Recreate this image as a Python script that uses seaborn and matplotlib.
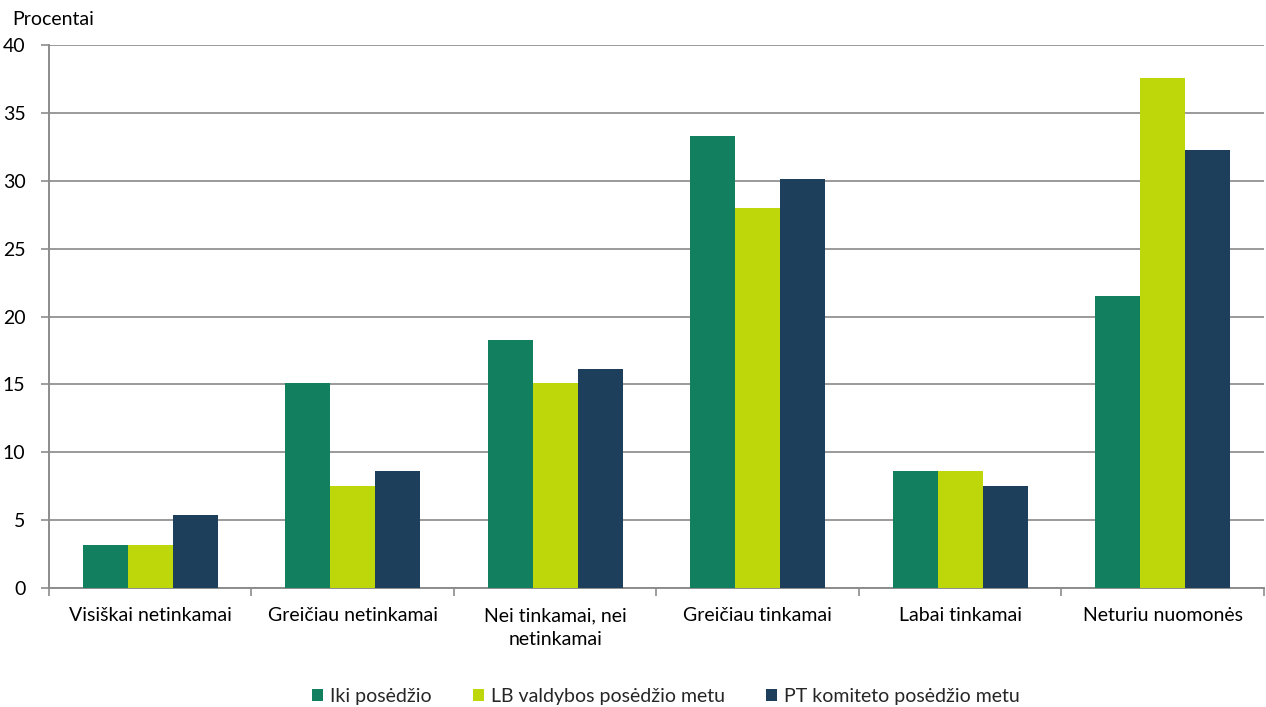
import matplotlib
matplotlib.use("Agg")
import matplotlib.pyplot as plt
import seaborn as sns
import pandas as pd
import numpy as np

# Survey answers, percent of respondents
categories = ["Visiškai netinkamai", "Greičiau netinkamai", "Nei tinkamai, nei\nnetinkamai",
              "Greičiau tinkamai", "Labai tinkamai", "Neturiu nuomonės"]
series_names = ["Iki posėdžio", "LB valdybos posėdžio metu", "PT komiteto posėdžio metu"]
iki_posedzio = [3.2, 15.1, 18.3, 33.3, 8.6, 21.5]
lb_valdybos = [3.2, 7.5, 15.1, 28.0, 8.6, 37.6]
pt_komiteto = [5.4, 8.6, 16.1, 30.1, 7.5, 32.3]
colors = ["#12805F", "#BDD70A", "#1D3F5C"]

sns.set_theme(style="white")
plt.rcParams["font.family"] = ["Lato", "DejaVu Sans"]

df = pd.DataFrame({
    "kategorija": categories * 3,
    "serija": np.repeat(series_names, len(categories)),
    "reiksme": iki_posedzio + lb_valdybos + pt_komiteto,
})

fig = plt.figure(figsize=(12.66, 7.07), dpi=100)
ax = fig.add_axes([0.0387, 0.1683, 0.9597, 0.768])

sns.barplot(data=df, x="kategorija", y="reiksme", hue="serija", order=categories,
            hue_order=series_names, palette=colors, width=0.667, saturation=1,
            errorbar=None, linewidth=0, ax=ax, zorder=3)

ax.set_ylim(0, 40)
ax.set_xlim(-0.5, len(categories) - 0.5)
ax.set_yticks(range(0, 41, 5))
ax.yaxis.grid(True, color="#9A9A9A", linewidth=1.4, zorder=0)
ax.set_axisbelow(True)
ax.set_xlabel("")
ax.set_ylabel("")

for side in ["top", "right"]:
    ax.spines[side].set_visible(False)
for side in ["left", "bottom"]:
    ax.spines[side].set_color("#8C8C8C")
    ax.spines[side].set_linewidth(1.4)

ax.tick_params(axis="y", which="major", left=True, length=6, width=1.2, color="#8C8C8C",
               labelsize=14, labelcolor="#000000", pad=11)
ax.set_xticks(range(len(categories)))
ax.set_xticklabels(categories, fontsize=14, color="#000000", linespacing=1.45)
ax.tick_params(axis="x", which="major", length=0, pad=14)
ax.set_xticks(np.arange(-0.5, len(categories), 1.0), minor=True)
ax.tick_params(axis="x", which="minor", bottom=True, length=6, width=1.2, color="#8C8C8C")

fig.text(0.010, 0.972, "Procentai", fontsize=14, ha="left", va="center", color="#000000")

handles, labels = ax.get_legend_handles_labels()
ax.legend_.remove()
fig.legend(handles, labels, loc="center", bbox_to_anchor=(0.526, 0.015), ncol=3,
           frameon=False, fontsize=14, handlelength=0.57, handleheight=0.57,
           handletextpad=0.36, columnspacing=2.1, borderpad=0, borderaxespad=0)

fig.savefig("out.png", dpi=100)
